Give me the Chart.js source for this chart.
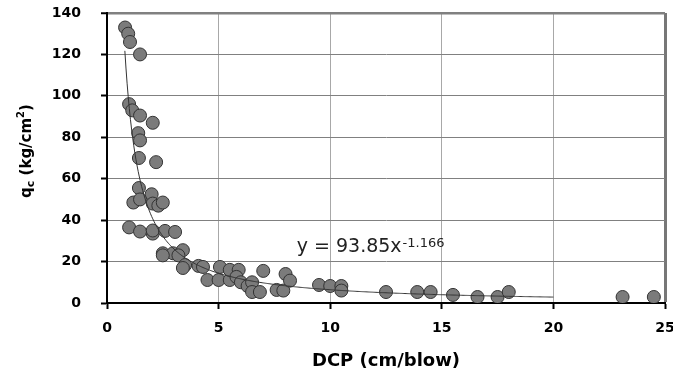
<!DOCTYPE html>
<html>
<head>
<meta charset="utf-8">
<script src="https://cdn.jsdelivr.net/npm/chart.js@4/dist/chart.umd.min.js"></script>
<style>
  body { margin: 0; background: #fff; }
  #wrap { width: 673px; height: 375px; position: relative; }
</style>
</head>
<body>
<div id="wrap"><canvas id="dcpChart"></canvas></div>
<script>
const dcp = [0.81, 0.95, 1.03, 1.48, 0.99, 1.13, 1.48, 2.05, 1.4, 1.48,
             1.43, 2.2, 1.43, 2.0, 1.18, 1.48, 2.05, 2.3, 2.5, 0.99,
             1.48, 2.05, 2.05, 2.6, 3.05, 2.5, 2.96, 2.5, 3.4, 3.2,
             3.5, 3.4, 4.1, 4.3, 4.5, 5.06, 5.0, 5.5, 5.5, 5.9,
             5.8, 6.0, 6.3, 6.5, 6.5, 6.85, 7.0, 7.6, 7.9, 8.0,
             8.2, 9.5, 10.0, 10.5, 10.5, 12.5, 13.9, 14.5, 15.5, 16.6,
             17.5, 18.0, 23.1, 24.5];
const qc = [133, 130, 126, 120, 96, 93, 90.5, 87, 82, 78.5,
            70, 68, 55.5, 52.5, 48.5, 50, 48, 47, 48.5, 36.5,
            34.5, 33.5, 35, 34.8, 34.3, 24, 24, 23, 25.5, 23,
            18.3, 16.9, 17.9, 17.4, 11.1, 17.4, 11.1, 11.1, 16, 16,
            12.6, 10, 8.2, 10, 5.3, 5.3, 15.5, 6.3, 6, 14,
            10.8, 8.7, 8.2, 8.2, 6, 5.3, 5.3, 5.3, 3.9, 2.9,
            2.9, 5.3, 2.9, 2.9];

// power trendline shown on the chart: y = a * x^b
const fitA = 93.85;
const fitB = -1.166;
const fitRange = [0.8, 20];
const eqAnchor = { x: 8.5, y: 24.6 };

const xTicks = [0, 5, 10, 15, 20, 25];
const yTicks = [0, 20, 40, 60, 80, 100, 120, 140];

const points = dcp.map((x, i) => ({ x: x, y: qc[i] }));

// trendline + equation label
const trendPlugin = {
    id: 'trend',
    afterDatasetsDraw(chart) {
        const { ctx, chartArea, scales } = chart;
        ctx.save();
        ctx.beginPath();
        ctx.rect(chartArea.left, chartArea.top, chartArea.right - chartArea.left, chartArea.bottom - chartArea.top);
        ctx.clip();
        ctx.beginPath();
        for (let x = fitRange[0]; x <= fitRange[1] + 1e-9; x += 0.05) {
            const px = scales.x.getPixelForValue(x);
            const py = scales.y.getPixelForValue(fitA * Math.pow(x, fitB));
            if (x === fitRange[0]) ctx.moveTo(px, py); else ctx.lineTo(px, py);
        }
        ctx.strokeStyle = '#333';
        ctx.lineWidth = 1;
        ctx.stroke();
        ctx.restore();

        // equation
        const ex = scales.x.getPixelForValue(eqAnchor.x);
        const ey = scales.y.getPixelForValue(eqAnchor.y);
        ctx.save();
        ctx.fillStyle = '#222';
        ctx.textBaseline = 'alphabetic';
        ctx.font = '19px "DejaVu Sans"';
        const main = 'y = ' + fitA.toFixed(2) + 'x';
        ctx.fillText(main, ex, ey);
        const w = ctx.measureText(main).width;
        ctx.font = '13px "DejaVu Sans"';
        ctx.fillText(fitB.toFixed(3), ex + w + 1, ey - 5);
        ctx.restore();
    },
    afterDraw(chart) {
        // y axis title with subscript / superscript
        const { ctx } = chart;
        const parts = [
            { t: 'q', size: 15, dy: 0 },
            { t: 'c', size: 11, dy: 4 },
            { t: ' (kg/cm', size: 15, dy: 0 },
            { t: '2', size: 10, dy: -6 },
            { t: ')', size: 15, dy: 0 }
        ];
        ctx.save();
        let total = 0;
        parts.forEach(p => {
            ctx.font = 'bold ' + p.size + 'px "DejaVu Sans"';
            p.w = ctx.measureText(p.t).width;
            total += p.w;
        });
        ctx.translate(27, 151);
        ctx.rotate(-Math.PI / 2);
        ctx.fillStyle = '#000';
        ctx.textBaseline = 'middle';
        let cx = -total / 2;
        parts.forEach(p => {
            ctx.font = 'bold ' + p.size + 'px "DejaVu Sans"';
            ctx.fillText(p.t, cx, p.dy);
            cx += p.w;
        });
        ctx.restore();
    }
};

const tickFont = { family: 'DejaVu Sans', weight: 'bold', size: 14 };

new Chart(document.getElementById('dcpChart').getContext('2d'), {
    type: 'scatter',
    data: {
        datasets: [{
            data: points,
            pointRadius: 6.5,
            pointHoverRadius: 6.5,
            pointBackgroundColor: '#7b7b7b',
            pointBorderColor: '#333',
            pointBorderWidth: 1
        }]
    },
    options: {
        responsive: true,
        maintainAspectRatio: false,
        animation: false,
        layout: { padding: { left: 0, right: 8, top: 13, bottom: 0 } },
        plugins: { legend: { display: false }, tooltip: { enabled: false } },
        scales: {
            x: {
                type: 'linear',
                min: xTicks[0],
                max: xTicks[xTicks.length - 1],
                afterBuildTicks: s => { s.ticks = xTicks.map(v => ({ value: v })); },
                ticks: { color: '#000', font: tickFont, padding: 11, maxRotation: 0 },
                grid: {
                    color: c => c.tick && c.tick.value === 25 ? '#777' : '#a8a8a8',
                    lineWidth: c => c.tick && c.tick.value === 25 ? 3 : 1,
                    tickLength: 6,
                    tickColor: '#000',
                    tickWidth: 2
                },
                border: { color: '#000', width: 2 },
                title: {
                    display: true,
                    text: 'DCP (cm/blow)',
                    color: '#000',
                    font: { family: 'DejaVu Sans', weight: 'bold', size: 18 },
                    padding: { top: 10, bottom: 3 }
                },
                afterFit: s => { s.height = 72; s.paddingLeft = 0; s.paddingRight = 0; }
            },
            y: {
                min: yTicks[0],
                max: yTicks[yTicks.length - 1],
                afterBuildTicks: s => { s.ticks = yTicks.map(v => ({ value: v })); },
                ticks: { color: '#000', font: tickFont, padding: 20 },
                grid: {
                    color: '#808080',
                    lineWidth: c => c.tick && c.tick.value === 140 ? 2.5 : 1,
                    tickLength: 6,
                    tickColor: '#000',
                    tickWidth: 2
                },
                border: { color: '#000', width: 2 },
                afterFit: s => { s.width = 107; s.paddingTop = 0; s.paddingBottom = 0; }
            }
        }
    },
    plugins: [trendPlugin]
});
</script>
</body>
</html>
